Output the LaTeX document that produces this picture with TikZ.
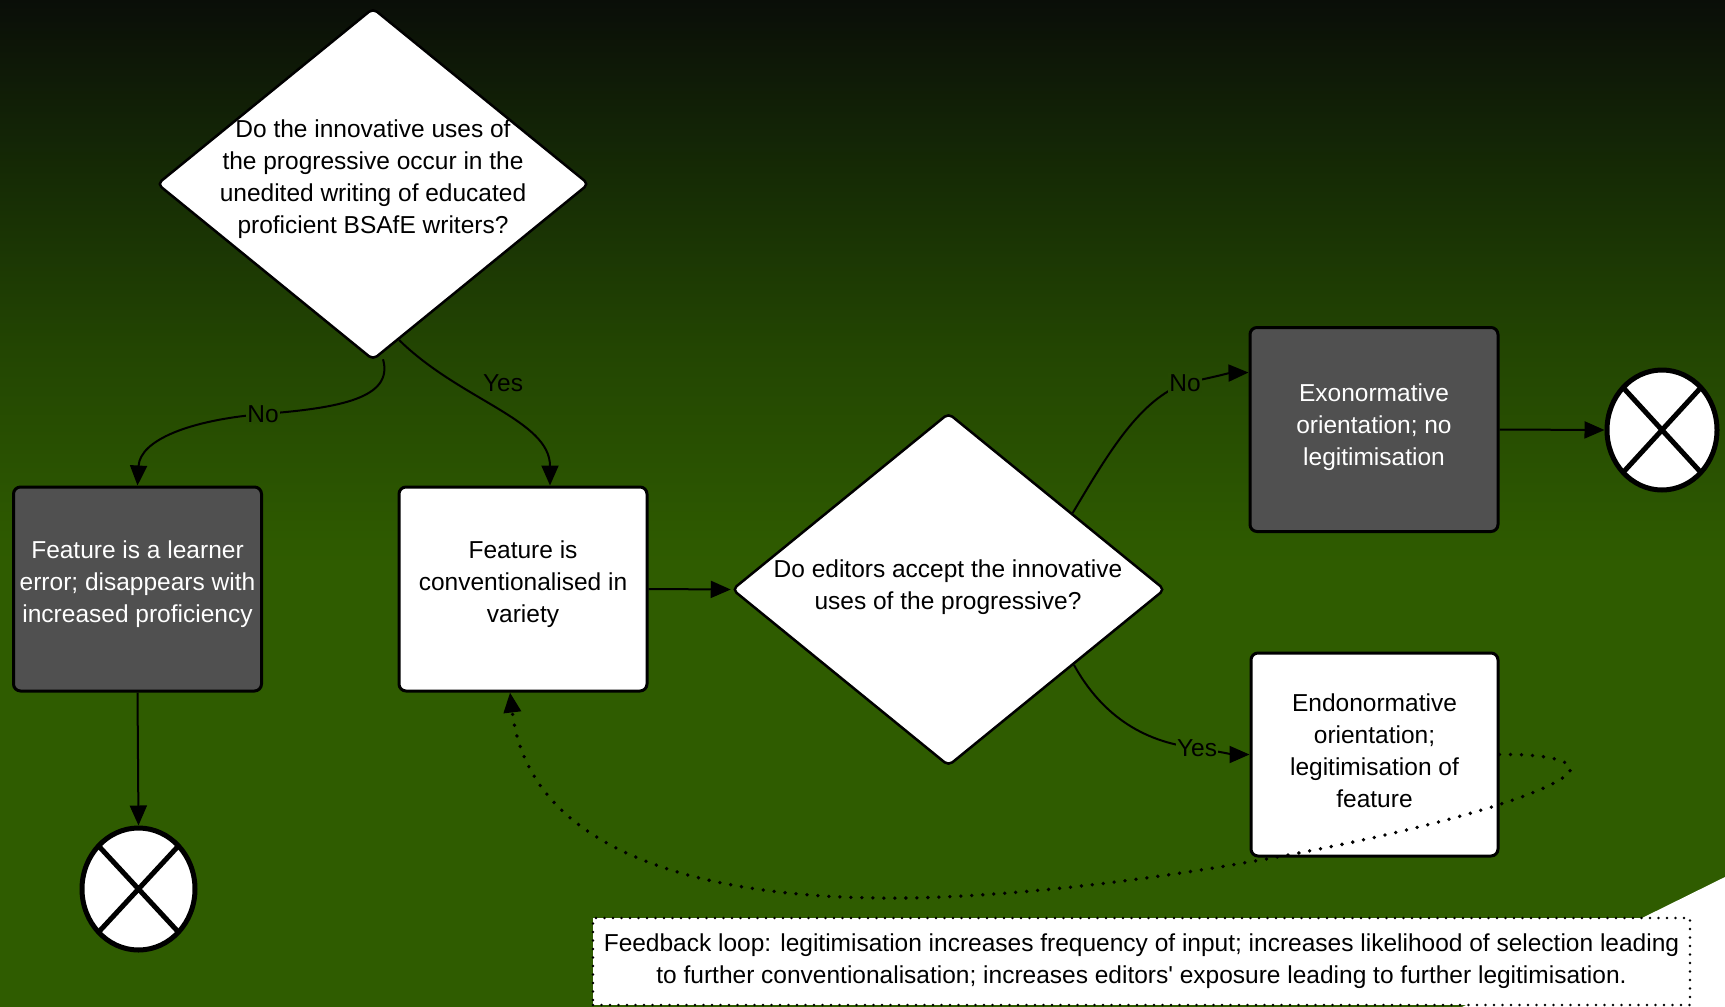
\documentclass[tikz,border=0pt]{standalone}
\usepackage{fontspec}
\setmainfont{Liberation Sans}[Ligatures=TeXOff]
\usetikzlibrary{shapes.geometric,arrows.meta,calc}
\definecolor{bgA}{RGB}{47,92,0}
\definecolor{bgB}{RGB}{35,70,2}
\definecolor{bgC}{RGB}{22,44,5}
\definecolor{bgD}{RGB}{10,14,8}
\definecolor{labA}{RGB}{38,76,1}
\definecolor{labB}{RGB}{37,73,2}
\definecolor{boxgray}{RGB}{80,80,80}
\pgfdeclareverticalshading{bgshade}{100bp}{color(0bp)=(bgA); color(25bp)=(bgA); color(47bp)=(bgA); color(57.5bp)=(bgB); color(66bp)=(bgC); color(75bp)=(bgD); color(100bp)=(bgD)}
\newcommand{\dpfix}[1]{\rule[-#1]{0pt}{0pt}}
\begin{document}
\begin{tikzpicture}[x=1pt,y=-1pt,
  every node/.style={font=\fontsize{24.5}{32}\selectfont},
  dia/.style={diamond, draw=black, line width=2.5pt, fill=white, rounded corners=5pt,
    minimum width=432pt, minimum height=352pt, inner sep=0pt},
  txt/.style={align=center, inner sep=0pt, text=black},
  box/.style={rectangle, rounded corners=7pt, draw=black, line width=3pt,
    minimum width=248pt, minimum height=204pt, align=center, inner sep=0pt},
  darkbox/.style={box, fill=boxgray, text=white},
  lightbox/.style={box, fill=white, text=black},
  termx/.style={ellipse, draw=black, line width=5pt, fill=white,
    minimum width=110pt, minimum height=120pt, inner sep=0pt,
    path picture={\draw[line width=5pt]
      (path picture bounding box.north west) -- (path picture bounding box.south east)
      (path picture bounding box.north east) -- (path picture bounding box.south west);}},
  conn/.style={line width=2pt, draw=black, -{Triangle[length=20pt,width=17pt]}},
  dotconn/.style={line width=3.8pt, draw=black, dash pattern=on 0pt off 11pt, line cap=round,
    -{Triangle[length=20pt,width=17pt]}},
  lbl/.style={inner sep=1.5pt, text=black},
  fbbox/.style={draw=black, fill=white, line width=2.8pt, dash pattern=on 0pt off 8.5pt,
    line cap=round, minimum width=1097pt, minimum height=87pt, align=center, inner sep=0pt}
]
\useasboundingbox (0,0) rectangle (1725,1007);
\fill[shading=bgshade] (0,0) rectangle (1725,1007);
\fill[white] (1725,877) -- (1462,1007) -- (1725,1007) -- cycle;

% nodes
\node[dia] (d1) at (373,184) {};
\node[txt] (d1t) at (373,179.5) {Do the innovative uses of\\the progressive occur in the\\unedited writing of educated\\proficient BSAfE writers?};
\node[darkbox] (learner) at (137.5,589) {Feature is a learner\\error; disappears with\\increased proficiency\dpfix{14pt}};
\node[lightbox] (conv) at (523,589) {Feature is\\conventionalised in\\variety\dpfix{14pt}};
\node[dia, minimum width=433pt, minimum height=353pt] (d2) at (948.5,589.5) {};
\node[txt] (d2t) at (948,587) {Do editors accept the innovative\\uses of the progressive?};
\node[darkbox] (exo) at (1374,429.5) {Exonormative\\orientation; no\\legitimisation\dpfix{9.5pt}};
\node[lightbox, minimum width=247pt, minimum height=203pt] (endo) at (1374.5,754.5) {Endonormative\\orientation;\\legitimisation of\\feature\dpfix{7pt}};
\node[termx] (end1) at (1662,430) {};
\node[termx, minimum width=113pt, minimum height=122pt] (end2) at (138.5,889) {};
\node[fbbox] (fb) at (1141.5,961.5) {Feedback loop: legitimisation increases frequency of input; increases likelihood of selection leading\\to further conventionalisation; increases editors' exposure leading to further legitimisation.};

% connectors
\draw[conn] ($(d1.south)+(10,-2)$) .. controls (394,398) and (340,408) .. (263,414)
  node[lbl, fill=labA] (nolab1) {No}
  .. controls (190,420) and (140,440) .. (learner.north);
\draw[conn] ($(d1.south)!0.12!(d1.east)$) .. controls (460,400) and (550,420) .. ($(conv.north)+(27,0)$);
\node[lbl] (yeslab1) at (503,383) {Yes};
\draw[conn] (conv.east) -- (d2.west);
\draw[conn] ($(d2.east)!0.43!(d2.north)$) .. controls (1110,450) and (1140,400) .. (1185,383)
  node[lbl, fill=labB] (nolab2) {No}
  .. controls (1210,378) and (1230,373) .. ($(exo.west)+(0,-57)$);
\draw[conn] ($(d2.east)!0.424!(d2.south)$) .. controls (1100,712) and (1140,742) .. (1197,748)
  node[lbl, fill=bgA] (yeslab2) {Yes}
  .. controls (1220,752) and (1235,754.5) .. (endo.west);
\draw[conn] (exo.east) -- (end1.west);
\draw[conn] (learner.south) -- (end2.north);
\draw[dotconn] (endo.east) .. controls (1545,754) and (1575,760) .. (1570,772)
  .. controls (1530,815) and (1150,895) .. (904,898)
  .. controls (720,900) and (530,860) .. ($(conv.south)+(-13,0)$);
\end{tikzpicture}
\end{document}
